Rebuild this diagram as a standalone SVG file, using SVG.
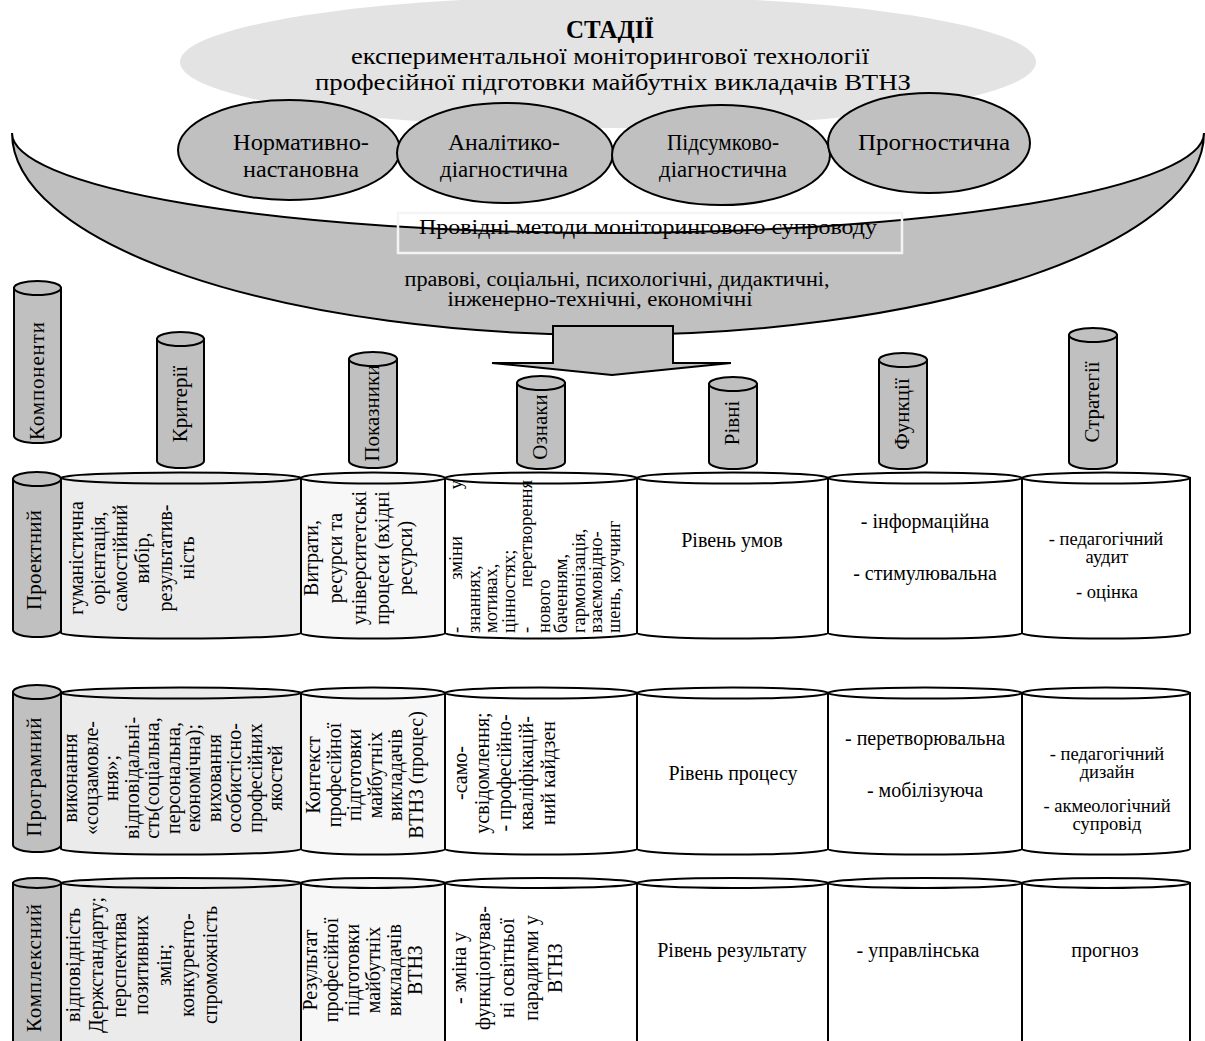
<svg xmlns="http://www.w3.org/2000/svg" width="1205" height="1041" viewBox="0 0 1205 1041" font-family="'Liberation Serif', 'Times New Roman', serif">
<style>
.t{font-family:"Liberation Serif","Times New Roman",serif;fill:#000}
.s{stroke:#000;stroke-width:2}
.g{fill:#c0c0c0}
.c1{fill:#ebebeb}
.c2{fill:#f7f7f7}
.c0{fill:#ffffff}
.e{font-size:24px;text-anchor:middle}
.h{font-size:21px;text-anchor:middle}
.r{font-size:20px;text-anchor:middle}
.x{font-size:20px;text-anchor:middle}
.rs{font-size:18.5px;text-anchor:start}
.re{font-size:18.5px;text-anchor:end}
.rm{font-size:18.5px;text-anchor:middle}
.sm{font-size:18.5px;text-anchor:middle}
</style>
<g id="stages-title">
<ellipse cx="608" cy="62" rx="428" ry="66" fill="#e3e3e3"/>
<text class="t" x="610" y="38" font-size="25" font-weight="bold" text-anchor="middle">СТАДІЇ</text>
<text class="t" x="610" y="64" font-size="24" text-anchor="middle" textLength="518" lengthAdjust="spacingAndGlyphs">експериментальної моніторингової технології</text>
<text class="t" x="613" y="90" font-size="24" text-anchor="middle" textLength="596" lengthAdjust="spacingAndGlyphs">професійної підготовки майбутніх викладачів ВТНЗ</text>
</g>
<g id="methods-bowl">
<path class="g s" d="M12 133 A596 202 0 0 0 1204 133 A596 100 0 0 1 12 133 Z"/>
<rect x="398" y="213" width="504" height="40" fill="none" stroke="#f4f4f4" stroke-width="2.5"/>
<text class="t" x="648" y="234" font-size="22" text-anchor="middle" textLength="458" lengthAdjust="spacingAndGlyphs">Провідні методи моніторингового супроводу</text>
<text class="t" x="617" y="286" font-size="20" text-anchor="middle" textLength="425" lengthAdjust="spacingAndGlyphs">правові, соціальні, психологічні, дидактичні,</text>
<text class="t" x="600" y="306" font-size="20" text-anchor="middle" textLength="305" lengthAdjust="spacingAndGlyphs">інженерно-технічні, економічні</text>
</g>
<g id="stage-1">
<ellipse class="g s" cx="289" cy="150" rx="111" ry="50"/>
<text class="t e" x="301" y="150" textLength="136" lengthAdjust="spacingAndGlyphs">Нормативно-</text>
<text class="t e" x="301" y="177" textLength="116" lengthAdjust="spacingAndGlyphs">настановна</text>
</g>
<g id="stage-2">
<ellipse class="g s" cx="505" cy="153" rx="108" ry="50"/>
<text class="t e" x="504" y="150" textLength="112" lengthAdjust="spacingAndGlyphs">Аналітико-</text>
<text class="t e" x="504" y="177" textLength="128" lengthAdjust="spacingAndGlyphs">діагностична</text>
</g>
<g id="stage-3">
<ellipse class="g s" cx="721" cy="155" rx="109" ry="50"/>
<text class="t e" x="723" y="150" textLength="112" lengthAdjust="spacingAndGlyphs">Підсумково-</text>
<text class="t e" x="723" y="177" textLength="128" lengthAdjust="spacingAndGlyphs">діагностична</text>
</g>
<g id="stage-4">
<ellipse class="g s" cx="929" cy="143" rx="101" ry="50"/>
<text class="t e" x="934" y="150" textLength="152" lengthAdjust="spacingAndGlyphs">Прогностична</text>
</g>
<g id="connectors">
<path class="g s" d="M553 326 H673 V363 H731 L612 375 L492 363 H553 Z"/>
</g>
<g id="col-components">
<path class="g s" d="M14 288 V436 A23.5 7 0 0 0 61 436 V288 Z"/><ellipse class="g s" cx="37.5" cy="288" rx="23.5" ry="7"/>
<text class="t h" transform="translate(44,381) rotate(-90)" textLength="118" lengthAdjust="spacing">Компоненти</text>
</g>
<g id="col-criteria">
<path class="g s" d="M157 339 V461 A23.5 7 0 0 0 204 461 V339 Z"/><ellipse class="g s" cx="180.5" cy="339" rx="23.5" ry="7"/>
<text class="t h" transform="translate(187,404) rotate(-90)">Критерії</text>
</g>
<g id="col-indicators">
<path class="g s" d="M349 359 V461 A24 7 0 0 0 397 461 V359 Z"/><ellipse class="g s" cx="373" cy="359" rx="24" ry="7"/>
<text class="t h" transform="translate(379,413) rotate(-90)">Показники</text>
</g>
<g id="col-signs">
<path class="g s" d="M517 383 V462 A24 7 0 0 0 565 462 V383 Z"/><ellipse class="g s" cx="541" cy="383" rx="24" ry="7"/>
<text class="t h" transform="translate(547,427) rotate(-90)">Ознаки</text>
</g>
<g id="col-levels">
<path class="g s" d="M709 384 V462 A24 7 0 0 0 757 462 V384 Z"/><ellipse class="g s" cx="733" cy="384" rx="24" ry="7"/>
<text class="t h" transform="translate(739,423) rotate(-90)">Рівні</text>
</g>
<g id="col-functions">
<path class="g s" d="M879 360 V462 A24 7 0 0 0 927 462 V360 Z"/><ellipse class="g s" cx="903" cy="360" rx="24" ry="7"/>
<text class="t h" transform="translate(909,414) rotate(-90)">Функції</text>
</g>
<g id="col-strategies">
<path class="g s" d="M1069 335 V462 A24 7 0 0 0 1117 462 V335 Z"/><ellipse class="g s" cx="1093" cy="335" rx="24" ry="7"/>
<text class="t h" transform="translate(1099,402) rotate(-90)">Стратегії</text>
</g>

<g id="row-project">
<path class="g s" d="M13 479 V630 A24 7 0 0 0 61 630 V479 Z"/><ellipse class="g s" cx="37" cy="479" rx="24" ry="7"/>
<text class="t h" transform="translate(41,560) rotate(-90)" textLength="100" lengthAdjust="spacing">Проектний</text>
</g>
<g id="cell-project-criteria">
<path class="c1 s" d="M61 478 V633 A120 5.5 0 0 0 301 633 V478 Z"/><ellipse class="c1 s" cx="181" cy="478" rx="120" ry="5.5"/>
<g class="t r">
<text transform="translate(83,558) rotate(-90)">гуманістична</text>
<text transform="translate(105,558) rotate(-90)">орієнтація,</text>
<text transform="translate(127,558) rotate(-90)">самостійний</text>
<text transform="translate(149,558) rotate(-90)">вибір,</text>
<text transform="translate(172,558) rotate(-90)">результатив-</text>
<text transform="translate(194,558) rotate(-90)">ність</text>
</g>
</g>
<g id="cell-project-indicators">
<path class="c2 s" d="M301 478 V633 A72 5.5 0 0 0 445 633 V478 Z"/><ellipse class="c2 s" cx="373" cy="478" rx="72" ry="5.5"/>
<g class="t r">
<text transform="translate(318,558) rotate(-90)">Витрати,</text>
<text transform="translate(342,558) rotate(-90)">ресурси та</text>
<text transform="translate(366,558) rotate(-90)">університетські</text>
<text transform="translate(389,558) rotate(-90)">процеси (вхідні</text>
<text transform="translate(412,558) rotate(-90)">ресурси)</text>
</g>
</g>
<g id="cell-project-signs">
<path class="c0 s" d="M445 478 V633 A96 5.5 0 0 0 637 633 V478 Z"/><ellipse class="c0 s" cx="541" cy="478" rx="96" ry="5.5"/>
<g class="t">
<text class="rs" transform="translate(462,633) rotate(-90)">-</text>
<text class="rm" transform="translate(462,558) rotate(-90)">зміни</text>
<text class="re" transform="translate(462,480) rotate(-90)">у</text>
<text class="rs" transform="translate(479.5,633) rotate(-90)">знаннях,</text>
<text class="rs" transform="translate(497,633) rotate(-90)">мотивах,</text>
<text class="rs" transform="translate(514.5,633) rotate(-90)">цінностях;</text>
<text class="rs" transform="translate(532,633) rotate(-90)">-</text>
<text class="re" transform="translate(532,480) rotate(-90)">перетворення</text>
<text class="rs" transform="translate(549.5,633) rotate(-90)">нового</text>
<text class="rs" transform="translate(567,633) rotate(-90)">баченням,</text>
<text class="rs" transform="translate(584.5,633) rotate(-90)">гармонізація,</text>
<text class="rs" transform="translate(602,633) rotate(-90)">взаємовідно-</text>
<text class="rs" transform="translate(619.5,633) rotate(-90)">шень, коучинг</text>
</g>
</g>
<g id="cell-project-levels">
<path class="c0 s" d="M637 478 V633 A95.5 5.5 0 0 0 828 633 V478 Z"/><ellipse class="c0 s" cx="732.5" cy="478" rx="95.5" ry="5.5"/>
<text class="t x" x="732" y="547">Рівень умов</text>
</g>
<g id="cell-project-functions">
<path class="c0 s" d="M828 478 V633 A97 5.5 0 0 0 1022 633 V478 Z"/><ellipse class="c0 s" cx="925" cy="478" rx="97" ry="5.5"/>
<text class="t x" x="925" y="528">- інформаційна</text>
<text class="t x" x="925" y="580">- стимулювальна</text>
</g>
<g id="cell-project-strategies">
<path class="c0 s" d="M1022 478 V633 A84 5.5 0 0 0 1190 633 V478 Z"/><ellipse class="c0 s" cx="1106" cy="478" rx="84" ry="5.5"/>
<text class="t sm" x="1106" y="545">- педагогічний</text>
<text class="t sm" x="1107" y="563">аудит</text>
<text class="t sm" x="1107" y="598">- оцінка</text>
</g>

<g id="row-program">
<path class="g s" d="M13 692 V845 A24 7 0 0 0 61 845 V692 Z"/><ellipse class="g s" cx="37" cy="692" rx="24" ry="7"/>
<text class="t h" transform="translate(41,777) rotate(-90)" textLength="119" lengthAdjust="spacing">Програмний</text>
</g>
<g id="cell-program-criteria">
<path class="c1 s" d="M61 693 V849 A120 5.5 0 0 0 301 849 V693 Z"/><ellipse class="c1 s" cx="181" cy="693" rx="120" ry="5.5"/>
<g class="t r">
<text transform="translate(77,778) rotate(-90)">виконання</text>
<text transform="translate(97.5,778) rotate(-90)">«соцзамовле-</text>
<text transform="translate(118,778) rotate(-90)">ння»;</text>
<text transform="translate(138.5,778) rotate(-90)">відповідальні-</text>
<text transform="translate(159,778) rotate(-90)">сть(соціальна,</text>
<text transform="translate(179.5,778) rotate(-90)">персональна,</text>
<text transform="translate(200,778) rotate(-90)">економічна);</text>
<text transform="translate(220.5,778) rotate(-90)">виховання</text>
<text transform="translate(241,778) rotate(-90)">особистісно-</text>
<text transform="translate(261.5,778) rotate(-90)">професійних</text>
<text transform="translate(282,778) rotate(-90)">якостей</text>
</g>
</g>
<g id="cell-program-indicators">
<path class="c2 s" d="M301 693 V849 A72 5.5 0 0 0 445 849 V693 Z"/><ellipse class="c2 s" cx="373" cy="693" rx="72" ry="5.5"/>
<g class="t r">
<text transform="translate(320,775) rotate(-90)">Контекст</text>
<text transform="translate(340.5,775) rotate(-90)">професійної</text>
<text transform="translate(361,775) rotate(-90)">підготовки</text>
<text transform="translate(381.5,775) rotate(-90)">майбутніх</text>
<text transform="translate(402,775) rotate(-90)">викладачів</text>
<text transform="translate(422.5,775) rotate(-90)">ВТНЗ (процес)</text>
</g>
</g>
<g id="cell-program-signs">
<path class="c0 s" d="M445 693 V849 A96 5.5 0 0 0 637 849 V693 Z"/><ellipse class="c0 s" cx="541" cy="693" rx="96" ry="5.5"/>
<g class="t r">
<text transform="translate(467,773) rotate(-90)">-само-</text>
<text transform="translate(489,773) rotate(-90)">усвідомлення;</text>
<text transform="translate(511,773) rotate(-90)">- професійно-</text>
<text transform="translate(533,773) rotate(-90)">кваліфікацій-</text>
<text transform="translate(555,773) rotate(-90)">ний кайдзен</text>
</g>
</g>
<g id="cell-program-levels">
<path class="c0 s" d="M637 693 V849 A95.5 5.5 0 0 0 828 849 V693 Z"/><ellipse class="c0 s" cx="732.5" cy="693" rx="95.5" ry="5.5"/>
<text class="t x" x="733" y="780">Рівень процесу</text>
</g>
<g id="cell-program-functions">
<path class="c0 s" d="M828 693 V849 A97 5.5 0 0 0 1022 849 V693 Z"/><ellipse class="c0 s" cx="925" cy="693" rx="97" ry="5.5"/>
<text class="t x" x="925" y="745">- перетворювальна</text>
<text class="t x" x="925" y="797">- мобілізуюча</text>
</g>
<g id="cell-program-strategies">
<path class="c0 s" d="M1022 693 V849 A84 5.5 0 0 0 1190 849 V693 Z"/><ellipse class="c0 s" cx="1106" cy="693" rx="84" ry="5.5"/>
<text class="t sm" x="1107" y="760">- педагогічний</text>
<text class="t sm" x="1107" y="778">дизайн</text>
<text class="t sm" x="1107" y="812">- акмеологічний</text>
<text class="t sm" x="1107" y="830">супровід</text>
</g>

<g id="row-complex">
<path class="g s" d="M13 883 V1060 H61 V883 Z"/><ellipse class="g s" cx="37" cy="883" rx="24" ry="5"/>
<text class="t h" transform="translate(41,968) rotate(-90)" textLength="128" lengthAdjust="spacing">Комплексний</text>
</g>
<g id="cell-complex-criteria">
<path class="c1 s" d="M61 883 V1060 H301 V883 Z"/><ellipse class="c1 s" cx="181" cy="883" rx="120" ry="5"/>
<g class="t r">
<text transform="translate(80,965) rotate(-90)">відповідність</text>
<text transform="translate(102.8,965) rotate(-90)">Держстандарту;</text>
<text transform="translate(125.6,965) rotate(-90)">перспектива</text>
<text transform="translate(148.4,965) rotate(-90)">позитивних</text>
<text transform="translate(171.2,965) rotate(-90)">змін;</text>
<text transform="translate(194,965) rotate(-90)">конкуренто-</text>
<text transform="translate(216.8,965) rotate(-90)">спроможність</text>
</g>
</g>
<g id="cell-complex-indicators">
<path class="c2 s" d="M301 883 V1060 H445 V883 Z"/><ellipse class="c2 s" cx="373" cy="883" rx="72" ry="5"/>
<g class="t r">
<text transform="translate(317,970) rotate(-90)">Результат</text>
<text transform="translate(338,970) rotate(-90)">професійної</text>
<text transform="translate(359,970) rotate(-90)">підготовки</text>
<text transform="translate(380,970) rotate(-90)">майбутніх</text>
<text transform="translate(401,970) rotate(-90)">викладачів</text>
<text transform="translate(422,970) rotate(-90)">ВТНЗ</text>
</g>
</g>
<g id="cell-complex-signs">
<path class="c0 s" d="M445 883 V1060 H637 V883 Z"/><ellipse class="c0 s" cx="541" cy="883" rx="96" ry="5"/>
<g class="t r">
<text transform="translate(466,968) rotate(-90)">- зміна у</text>
<text transform="translate(490,968) rotate(-90)">функціонував-</text>
<text transform="translate(514,968) rotate(-90)">ні освітньої</text>
<text transform="translate(538,968) rotate(-90)">парадигми у</text>
<text transform="translate(562,968) rotate(-90)">ВТНЗ</text>
</g>
</g>
<g id="cell-complex-levels">
<path class="c0 s" d="M637 883 V1060 H828 V883 Z"/><ellipse class="c0 s" cx="732.5" cy="883" rx="95.5" ry="5"/>
<text class="t x" x="732" y="957">Рівень результату</text>
</g>
<g id="cell-complex-functions">
<path class="c0 s" d="M828 883 V1060 H1022 V883 Z"/><ellipse class="c0 s" cx="925" cy="883" rx="97" ry="5"/>
<text class="t x" x="918" y="957">- управлінська</text>
</g>
<g id="cell-complex-strategies">
<path class="c0 s" d="M1022 883 V1060 H1190 V883 Z"/><ellipse class="c0 s" cx="1106" cy="883" rx="84" ry="5"/>
<text class="t x" x="1105" y="957">прогноз</text>
</g>
</svg>
